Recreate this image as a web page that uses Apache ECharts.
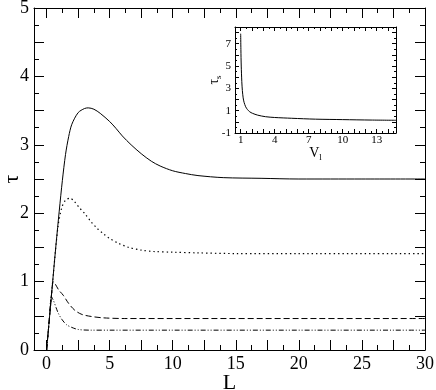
<!DOCTYPE html>
<html>
<head>
<meta charset="utf-8">
<script src="https://cdn.jsdelivr.net/npm/echarts@6/dist/echarts.min.js"></script>
<style>
  html, body { margin: 0; padding: 0; background: #fff; }
  #chart { width: 436px; height: 390px; }
</style>
</head>
<body>
<div id="chart"></div>
<script>
// main panel: tau vs L, four curves
const solidL = [0, 0.25, 0.5, 0.75, 1.0, 1.25, 1.5, 1.75, 2.0, 2.5, 3.0, 3.3, 3.75, 4.25, 5.0, 5.5, 6.0, 6.7, 7.5, 8.3, 9.0, 10, 11, 12, 14, 17, 20, 25, 30]
const solidTau = [0, 0.52, 1.04, 1.55, 2.03, 2.48, 2.86, 3.12, 3.3, 3.47, 3.53, 3.54, 3.52, 3.46, 3.34, 3.24, 3.13, 3.0, 2.87, 2.76, 2.69, 2.62, 2.58, 2.55, 2.52, 2.51, 2.5, 2.5, 2.5]

const dottedL = [0, 0.5, 0.9, 1.2, 1.5, 1.85, 2.2, 2.6, 3.0, 3.5, 4.0, 4.5, 5.0, 5.7, 6.5, 7.5, 8.5, 10, 12, 15, 20, 30]
const dottedTau = [0, 1.04, 1.8, 2.08, 2.19, 2.22, 2.17, 2.08, 2.0, 1.88, 1.78, 1.7, 1.63, 1.56, 1.5, 1.46, 1.44, 1.43, 1.42, 1.41, 1.41, 1.41]

const dashedL = [0, 0.25, 0.45, 0.53, 0.7, 0.95, 1.32, 1.75, 2.24, 2.8, 3.55, 4.5, 6.2, 10, 20, 30]
const dashedTau = [0, 0.52, 0.93, 1.0, 0.96, 0.88, 0.8, 0.68, 0.58, 0.52, 0.49, 0.47, 0.46, 0.46, 0.46, 0.46]

const dddL = [0, 0.2, 0.38, 0.55, 0.75, 0.92, 1.2, 1.58, 2.0, 2.5, 3.5, 5, 10, 20, 30]
const dddTau = [0, 0.42, 0.78, 0.72, 0.62, 0.54, 0.45, 0.37, 0.33, 0.3, 0.29, 0.29, 0.29, 0.29, 0.29]

// inset: tau_s vs V_l
const insetV = [1.0, 1.02, 1.05, 1.1, 1.15, 1.22, 1.3, 1.44, 1.6, 1.8, 2.03, 2.5, 3.2, 4.0, 5.5, 7.6, 10, 12.5, 14.7]
const insetTau = [7.9, 6.5, 5.0, 3.6, 2.8, 2.15, 1.75, 1.35, 1.1, 0.9, 0.77, 0.6, 0.46, 0.39, 0.32, 0.24, 0.2, 0.16, 0.14]

// tick labels and tick positions
const xLabels = [0, 5, 10, 15, 20, 25, 30]
const xMajor = [0, 2.5, 5, 7.5, 10, 12.5, 15, 17.5, 20, 22.5, 25, 27.5, 30]
const xMinor = [1.25, 3.75, 6.25, 8.75, 11.25, 13.75, 16.25, 18.75, 21.25, 23.75, 26.25, 28.75]
const yLabels = [0, 1, 2, 3, 4, 5]
const yMajor = [0, 0.5, 1, 1.5, 2, 2.5, 3, 3.5, 4, 4.5, 5]
const yMinor = [0.25, 0.75, 1.25, 1.75, 2.25, 2.75, 3.25, 3.75, 4.25, 4.75]

const insetXLabels = [1, 4, 7, 10, 13]
const insetXMajor = [1, 2, 3, 4, 5, 6, 7, 8, 9, 10, 11, 12, 13, 14]
const insetXMinor = [0.5, 1.5, 2.5, 3.5, 4.5, 5.5, 6.5, 7.5, 8.5, 9.5, 10.5, 11.5, 12.5, 13.5, 14.5]
const insetYLabels = [-1, 1, 3, 5, 7]
const insetYMajor = [-1, 0, 1, 2, 3, 4, 5, 6, 7, 8]
const insetYMinor = [-0.5, 0.5, 1.5, 2.5, 3.5, 4.5, 5.5, 6.5, 7.5]

const zip = (xs, ys) => xs.map((x, i) => [x, ys[i]])
const FONT = 'Liberation Serif'
const INK = '#000'

// one axis = one set of ticks; majors carry the line + labels, minors only short ticks
function axis (dim, grid, opts) {
  const a = {
    type: 'value',
    gridIndex: grid,
    min: opts.min,
    max: opts.max,
    position: opts.position,
    splitLine: { show: false },
    axisLine: { show: !!opts.line, onZero: false, lineStyle: { color: INK, width: 1 } },
    axisTick: { show: true, inside: true, length: opts.len, customValues: opts.ticks, lineStyle: { color: INK, width: 1 } },
    axisLabel: opts.labels
      ? { show: true, customValues: opts.labels, margin: opts.margin, color: INK, fontFamily: FONT, fontSize: opts.fontSize, hideOverlap: false }
      : { show: false }
  }
  if (opts.name) {
    a.name = opts.name
    a.nameLocation = 'middle'
    a.nameGap = opts.nameGap
    a.nameMoveOverlap = false
    a.nameTextStyle = opts.nameTextStyle
  }
  return a
}

const chart = echarts.init(document.getElementById('chart'), null, { renderer: 'canvas' })

chart.setOption({
  backgroundColor: '#fff',
  animation: false,
  grid: [
    { left: 34, right: 11, top: 8, bottom: 40, outerBoundsMode: 'none' },
    { left: 235, top: 27, width: 161, height: 106, outerBoundsMode: 'none', backgroundColor: '#fff', show: true, borderWidth: 0 }
  ],
  xAxis: [
    axis('x', 0, { min: -1, max: 30, position: 'bottom', line: true, len: 10, ticks: xMajor, labels: xLabels, margin: 5, fontSize: 18,
      name: 'L', nameGap: 22, nameTextStyle: { color: INK, fontFamily: FONT, fontSize: 22 } }),
    axis('x', 0, { min: -1, max: 30, position: 'bottom', len: 5, ticks: xMinor }),
    axis('x', 0, { min: -1, max: 30, position: 'top', line: true, len: 10, ticks: xMajor }),
    axis('x', 0, { min: -1, max: 30, position: 'top', len: 5, ticks: xMinor }),
    axis('x', 1, { min: 0.5, max: 14.7, position: 'bottom', line: true, len: 4, ticks: insetXMajor, labels: insetXLabels, margin: 2, fontSize: 11,
      name: '{a|V}{b|l}', nameGap: 12, nameTextStyle: { rich: { a: { color: INK, fontFamily: FONT, fontSize: 14 }, b: { color: INK, fontFamily: FONT, fontSize: 9, padding: [8, 0, 0, 0] } } } }),
    axis('x', 1, { min: 0.5, max: 14.7, position: 'bottom', len: 2, ticks: insetXMinor }),
    axis('x', 1, { min: 0.5, max: 14.7, position: 'top', line: true, len: 4, ticks: insetXMajor }),
    axis('x', 1, { min: 0.5, max: 14.7, position: 'top', len: 2, ticks: insetXMinor })
  ],
  yAxis: [
    axis('y', 0, { min: 0, max: 5, position: 'left', line: true, len: 10, ticks: yMajor, labels: yLabels, margin: 5, fontSize: 18,
      name: 'τ', nameGap: 11, nameTextStyle: { color: INK, fontFamily: FONT, fontSize: 22 } }),
    axis('y', 0, { min: 0, max: 5, position: 'left', len: 5, ticks: yMinor }),
    axis('y', 0, { min: 0, max: 5, position: 'right', line: true, len: 10, ticks: yMajor }),
    axis('y', 0, { min: 0, max: 5, position: 'right', len: 5, ticks: yMinor }),
    axis('y', 1, { min: -1, max: 8.5, position: 'left', line: true, len: 4, ticks: insetYMajor, labels: insetYLabels, margin: 4, fontSize: 11,
      name: '{a|τ}{b|s}', nameGap: 12, nameTextStyle: { rich: { a: { color: INK, fontFamily: FONT, fontSize: 14 }, b: { color: INK, fontFamily: FONT, fontSize: 9, padding: [8, 0, 0, 0] } } } }),
    axis('y', 1, { min: -1, max: 8.5, position: 'left', len: 2, ticks: insetYMinor }),
    axis('y', 1, { min: -1, max: 8.5, position: 'right', line: true, len: 4, ticks: insetYMajor }),
    axis('y', 1, { min: -1, max: 8.5, position: 'right', len: 2, ticks: insetYMinor })
  ],
  series: [
    {
      type: 'line', xAxisIndex: 0, yAxisIndex: 0, data: zip(solidL, solidTau),
      smooth: 0.3, showSymbol: false, lineStyle: { color: INK, width: 1, type: 'solid' }
    },
    {
      type: 'line', xAxisIndex: 0, yAxisIndex: 0, data: zip(dottedL, dottedTau),
      smooth: 0.3, showSymbol: false, lineStyle: { color: INK, width: 1.2, type: [1.4, 3] }
    },
    {
      type: 'line', xAxisIndex: 0, yAxisIndex: 0, data: zip(dashedL, dashedTau),
      smooth: 0.3, showSymbol: false, lineStyle: { color: INK, width: 1, type: [6, 3] }
    },
    {
      type: 'line', xAxisIndex: 0, yAxisIndex: 0, data: zip(dddL, dddTau),
      smooth: 0.3, showSymbol: false, lineStyle: { color: INK, width: 1, type: [5, 2, 1, 2, 1, 2] }
    },
    {
      type: 'line', xAxisIndex: 4, yAxisIndex: 4, data: zip(insetV, insetTau),
      smooth: 0.3, showSymbol: false, lineStyle: { color: INK, width: 1, type: 'solid' }
    }
  ]
})
</script>
</body>
</html>
